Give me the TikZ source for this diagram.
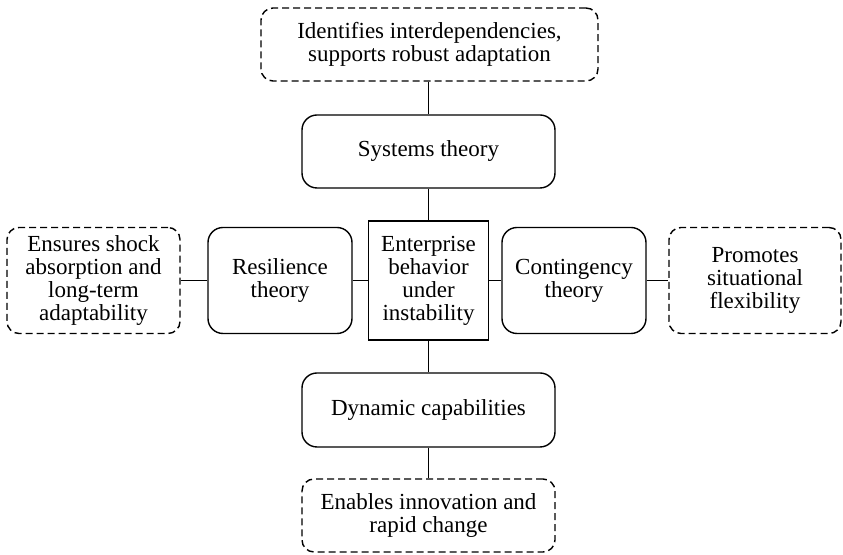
\documentclass[tikz,border=0pt]{standalone}
\usepackage{fontspec}
\setmainfont{Liberation Serif}
\begin{document}
\begin{tikzpicture}[x=0.5pt,y=-0.5pt,
        every node/.style={font=\fontsize{11.5}{11.5}\selectfont,align=center,inner sep=0pt},
        theory/.style={draw,line width=0.7pt,rounded corners=7.5pt},
        note/.style={draw,line width=0.7pt,dash pattern=on 3.5pt off 2pt,rounded corners=6pt},
        core/.style={draw,line width=0.7pt}]
        \useasboundingbox (0,0) rectangle (843,555);
        % Central box
        \node[core,minimum width=60pt,minimum height=59.5pt](core) at (428.5,280.5){Enterprise\\behavior\\under\\instability};
        % Theories
        \node[theory,minimum width=126.5pt,minimum height=36.5pt](sys) at (428.5,151.5){Systems theory};
        \node[theory,minimum width=72pt,minimum height=53pt](res) at (280,280.5){Resilience\\theory};
        \node[theory,minimum width=72pt,minimum height=53pt](cont) at (574,280.5){Contingency\\theory};
        \node[theory,minimum width=126.5pt,minimum height=37pt](dyn) at (428.5,410){Dynamic capabilities};
        % Contributions
        \node[note,minimum width=168.5pt,minimum height=36.5pt](idea) at (429.5,44.5){Identifies interdependencies,\\supports robust adaptation};
        \node[note,minimum width=86.5pt,minimum height=53pt](shock) at (93.5,280.5){Ensures shock\\absorption and\\long-term\\adaptability};
        \node[note,minimum width=86pt,minimum height=53pt](flex) at (755,280.5){Promotes\\situational\\flexibility};
        \node[note,minimum width=126.5pt,minimum height=36.5pt](innov) at (428.5,515.5){Enables innovation and\\rapid change};
        % Links
        \draw[line width=0.7pt](idea.south-|sys.north)--(sys.north);
        \draw[line width=0.7pt](sys)--(core);
        \draw[line width=0.7pt](core)--(dyn);
        \draw[line width=0.7pt](dyn)--(innov);
        \draw[line width=0.7pt](shock)--(res);
        \draw[line width=0.7pt](res)--(core);
        \draw[line width=0.7pt](core)--(cont);
        \draw[line width=0.7pt](cont)--(flex);
\end{tikzpicture}
\end{document}
